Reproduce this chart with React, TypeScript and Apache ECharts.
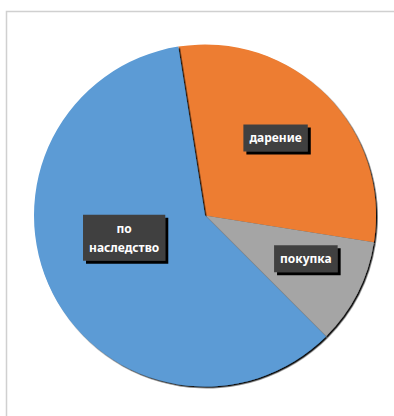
import React, { useEffect, useRef } from "react";
import * as echarts from "echarts";

const categories = ["дарение", "покупка", "по\nнаследство"];
const values = [30, 10, 60];
const colors = ["#ED7D31", "#A5A5A5", "#5B9BD5"];
const labelShift = [
  [8, -15],
  [22, 3],
  [-2, -18],
];

export default function App() {
  const ref = useRef<HTMLDivElement>(null);
  useEffect(() => {
    const chart = echarts.init(ref.current!, null, { renderer: "svg" });
    chart.setOption({
      animation: false,
      backgroundColor: "#ffffff",
      graphic: [
        {
          type: "polyline",
          shape: { points: [[6.5, 420], [6.5, 11.5], [400, 11.5]] },
          style: { stroke: "#d0d0d0", lineWidth: 1.5, fill: null },
          silent: true,
        },
      ],
      series: [
        {
          type: "pie",
          center: [205, 215.5],
          radius: [0, 171],
          startAngle: 99,
          clockwise: true,
          data: categories.map((name, i) => ({
            name,
            value: values[i],
            itemStyle: { color: colors[i] },
          })),
          itemStyle: {
            shadowColor: "rgba(0,0,0,0.95)",
            shadowBlur: 1,
            shadowOffsetX: 1.5,
            shadowOffsetY: 1.5,
          },
          label: {
            show: true,
            position: "inside",
            formatter: "{b}",
            color: "#ffffff",
            fontFamily: "Noto Sans",
            fontWeight: "bold",
            fontSize: 12,
            lineHeight: 19,
            backgroundColor: "#414141",
            padding: [4, 6],
            shadowColor: "#000000",
            shadowOffsetX: 3,
            shadowOffsetY: 3,
            shadowBlur: 0,
          },
          labelLine: { show: false },
          labelLayout: (params: any) => ({
            dx: labelShift[params.dataIndex][0],
            dy: labelShift[params.dataIndex][1],
          }),
        },
      ],
    });
    return () => chart.dispose();
  }, []);
  return (
    <div
      ref={ref}
      style={{ position: "fixed", left: 0, top: 0, width: 394, height: 416 }}
    />
  );
}
